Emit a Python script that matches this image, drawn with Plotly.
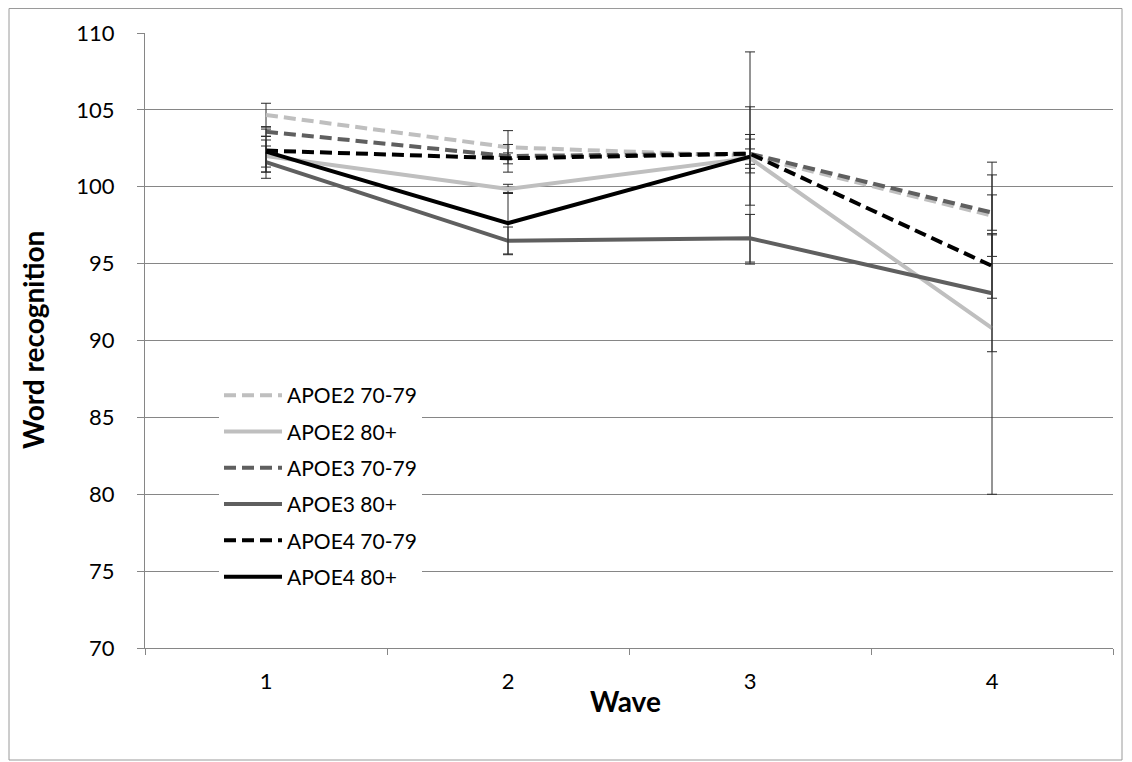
import plotly.graph_objects as go

waves = [1, 2, 3, 4]
wave_labels = ["1", "2", "3", "4"]
y_ticks = [70, 75, 80, 85, 90, 95, 100, 105, 110]

names = ["APOE2 70-79", "APOE2 80+", "APOE3 70-79", "APOE3 80+", "APOE4 70-79", "APOE4 80+"]

apoe2_7079 = [104.67, 102.57, 102.0, 98.12]
apoe2_7079_err = [0.76, 1.08, 3.2, 2.65]
apoe2_80 = [102.0, 99.86, 101.87, 90.8]
apoe2_80_err = [1.04, 0.3, 6.9, 10.8]
apoe3_7079 = [103.58, 102.0, 102.15, 98.32]
apoe3_7079_err = [0.3, 0.2, 1.25, 1.15]
apoe3_80 = [101.6, 96.48, 96.65, 93.07]
apoe3_80_err = [1.05, 0.9, 1.55, 3.8]
apoe4_7079 = [102.35, 101.85, 102.15, 94.85]
apoe4_7079_err = [1.4, 0.9, 0.95, 2.1]
apoe4_80 = [102.28, 97.63, 101.96, None]
apoe4_80_err = [1.0, 2.0, 0.5, 0]

values = [apoe2_7079, apoe2_80, apoe3_7079, apoe3_80, apoe4_7079, apoe4_80]
errors = [apoe2_7079_err, apoe2_80_err, apoe3_7079_err, apoe3_80_err, apoe4_7079_err, apoe4_80_err]
colors = ["#bfbfbf", "#bfbfbf", "#5f5f5f", "#5f5f5f", "#000000", "#000000"]
dashes = ["12px,6px", "solid", "12px,6px", "solid", "12px,6px", "solid"]

FONT = "Lato"

fig = go.Figure()
for i, name in enumerate(names):
    fig.add_trace(go.Scatter(
        x=waves, y=values[i], name=name, mode="lines",
        line=dict(color=colors[i], width=4, dash=dashes[i]),
        connectgaps=False,
        legendgroup=name,
        error_y=dict(type="data", array=errors[i], visible=True,
                     color="#2a2a2a", thickness=1, width=5),
    ))

OFF = 8  # page body margin
W, H = 1124, 754
L, T = 145 - OFF, 33 - OFF
R = W - (1113 - OFF)
B = H - (648 - OFF)
pw, ph = W - L - R, H - T - B

def px_x(px):
    return (px - OFF - L) / pw

def px_y(py):
    return (H - B - (py - OFF)) / ph

fig.update_layout(
    width=W, height=H,
    margin=dict(l=L, r=R, t=T, b=B),
    paper_bgcolor="white", plot_bgcolor="white",
    font=dict(family=FONT, size=22, color="#000000"),
    showlegend=True,
    legend=dict(
        x=px_x(219), y=px_y(375), xanchor="left", yanchor="top",
        bgcolor="white", borderwidth=0,
        font=dict(family=FONT, size=21, color="#000000"),
        tracegroupgap=6, itemwidth=58,
    ),
    xaxis=dict(
        range=[0.5, 4.5], tickmode="array", tickvals=waves, ticktext=wave_labels,
        ticks="", showgrid=False, zeroline=False,
        showline=True, linecolor="#868686", linewidth=1,
        ticklabelstandoff=14,
        tickfont=dict(family=FONT, size=22),
        minor=dict(tickmode="linear", tick0=0.5, dtick=1, ticks="outside",
                   ticklen=6, tickcolor="#868686", tickwidth=1, showgrid=False),
    ),
    yaxis=dict(
        range=[70, 110], tickmode="array", tickvals=y_ticks,
        ticks="outside", ticklen=7, tickcolor="#868686", tickwidth=1,
        showgrid=True, gridcolor="#868686", gridwidth=1, zeroline=False,
        showline=True, linecolor="#868686", linewidth=1,
        ticklabelstandoff=18,
        tickfont=dict(family=FONT, size=22),
    ),
    annotations=[
        dict(text="<b>Word recognition</b>", xref="paper", yref="paper",
             x=px_x(33), y=px_y(340), xanchor="center", yanchor="middle",
             textangle=-90, showarrow=False, font=dict(family=FONT, size=28)),
        dict(text="<b>Wave</b>", xref="paper", yref="paper",
             x=px_x(625), y=px_y(701), xanchor="center", yanchor="middle",
             showarrow=False, font=dict(family=FONT, size=28)),
    ],
    shapes=[
        dict(type="rect", xref="paper", yref="paper",
             x0=px_x(9), x1=px_x(1122), y0=px_y(760), y1=px_y(8.5),
             line=dict(color="#9a9a9a", width=1), layer="below"),
    ],
)

fig.write_html("out.html")
